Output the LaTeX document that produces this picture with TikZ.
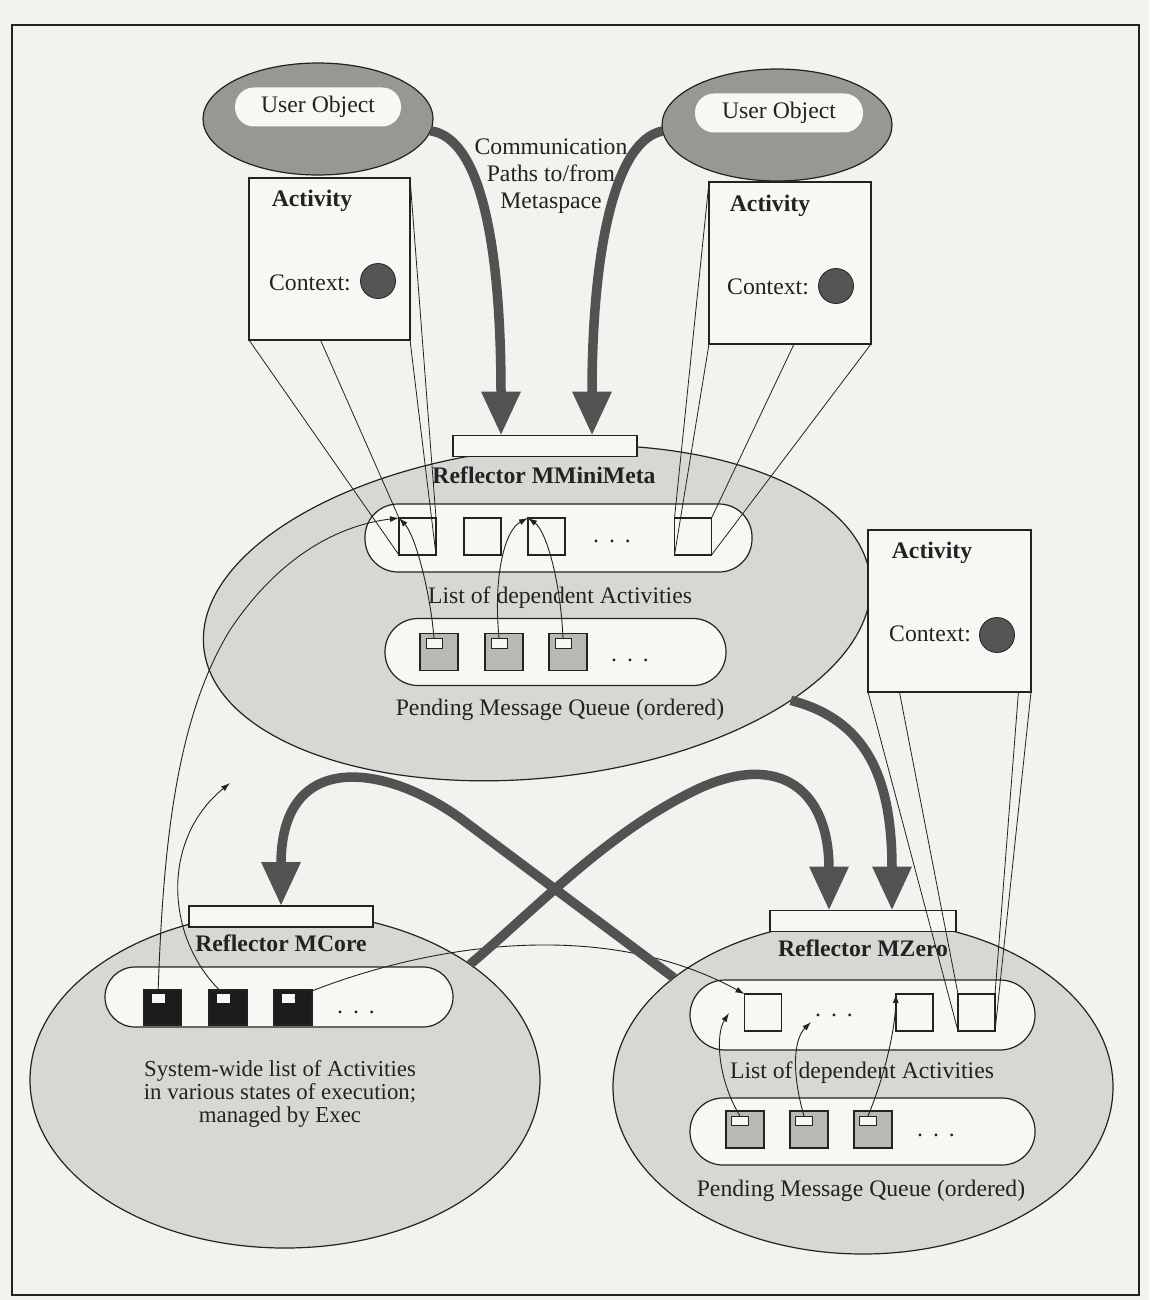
\documentclass[tikz,border=0pt]{standalone}
\usepackage{fontspec}
\setmainfont{Liberation Serif}
\usetikzlibrary{shapes.geometric,arrows.meta,calc}
\definecolor{paper}{HTML}{F2F2EE}
\definecolor{shade}{HTML}{D7D7D3}
\definecolor{objgray}{HTML}{979793}
\definecolor{inner}{HTML}{F7F7F4}
\definecolor{ink}{HTML}{222222}
\definecolor{flow}{HTML}{525252}
\definecolor{msg}{HTML}{B8B8B4}
\definecolor{ctxdot}{HTML}{555555}
\definecolor{coreblk}{HTML}{1C1C1C}
\pgfdeclarelayer{base}
\pgfdeclarelayer{links}
\pgfsetlayers{base,links,main}
\begin{document}
\begin{tikzpicture}[x=1pt,y=-1pt,
  every node/.style={font=\fontsize{23.7}{27}\selectfont, text=ink, inner sep=0pt, outer sep=0pt},
  title/.style={font=\bfseries\fontsize{23.7}{27}\selectfont},
  region/.style={ellipse, draw=ink, line width=1.2pt, fill=shade},
  userobj/.style={ellipse, draw=ink, line width=1.2pt, fill=objgray},
  userpill/.style={fill=inner, rounded corners=19pt, minimum height=39pt},
  bar/.style={draw=ink, line width=1.4pt, fill=inner, minimum height=21pt},
  listpill/.style={draw=ink, line width=1.2pt, fill=inner, rounded corners=33pt, minimum height=68pt},
  lbox/.style={draw=ink, line width=1.2pt, fill=inner, minimum width=37pt, minimum height=37pt},
  mbox/.style={draw=ink, line width=1.2pt, fill=msg, minimum width=38pt, minimum height=37pt},
  cbox/.style={draw=ink, line width=1.2pt, fill=coreblk, minimum width=38pt, minimum height=35pt},
  tag/.style={draw=ink, line width=0.9pt, fill=inner, minimum width=16pt, minimum height=10pt},
  ctag/.style={draw=inner, line width=0.6pt, fill=inner, minimum width=12pt, minimum height=8pt},
  actbox/.style={draw=ink, line width=1.2pt, fill=inner},
  ctx/.style={circle, draw=ink, line width=0.8pt, fill=ctxdot, minimum size=35pt},
  proj/.style={ink, line width=0.8pt},
  note/.style={ink, line width=0.9pt, -{Latex[length=9pt,width=6pt]}},
  flowarrow/.style={flow, line width=9.5pt, -{Triangle[length=44pt,width=37pt]}}
]
\useasboundingbox (0,0) rectangle (1149,1300);

\begin{pgfonlayer}{base}
% page and frame
\fill[paper] (0,0) rectangle (1149,1300);
\draw[ink, line width=2.8pt] (12,25) rectangle (1139,1295);

% reflector regions
\node[region, minimum width=670pt, minimum height=330pt, rotate=6] (mmreg) at (537,613) {};
\node[region, minimum width=510pt, minimum height=336pt] (mcreg) at (285,1080) {};
\node[region, minimum width=500pt, minimum height=334pt] (mzreg) at (863,1087) {};

% reflector bars and titles
\node[bar, minimum width=184pt] (mmbar) at (545,446) {};
\node[title] (mmtitle) at (544,475) {Reflector MMiniMeta};
\node[bar, minimum width=184pt] (mcbar) at (281,916.5) {};
\node[title] (mctitle) at (281,943) {Reflector MCore};
\node[bar, minimum width=186pt] (mzbar) at (863,921) {};
\node[title] (mztitle) at (863,948) {Reflector MZero};

% MMiniMeta: dependent activities and message queue
\node[listpill, minimum width=387pt] (mmlist) at (558.5,538) {};
\node[lbox] (mm1) at (417.5,536.5) {};
\node[lbox] (mm2) at (482.5,536.5) {};
\node[lbox] (mm3) at (546.5,536.5) {};
\node (mmdots) at (612,541) {.\hskip 10pt.\hskip 10pt.};
\node[lbox] (mm4) at (693,536.5) {};
\node (mmlistlbl) at (560,598) {List of dependent Activities};
\node[listpill, minimum width=341pt, minimum height=67pt] (mmqueue) at (555.5,652) {};
\node[mbox] (mq1) at (439,652) {};
\node[mbox] (mq2) at (504,652) {};
\node[mbox] (mq3) at (568,652) {};
\node[tag] (mt1) at (434,643) {};
\node[tag] (mt2) at (499,643) {};
\node[tag] (mt3) at (563,643) {};
\node (mqdots) at (630,660) {.\hskip 10pt.\hskip 10pt.};
\node (mmqlbl) at (560,710) {Pending Message Queue (ordered)};

% MZero: dependent activities and message queue
\node[listpill, minimum width=345pt, minimum height=70pt, rounded corners=35pt] (mzlist) at (862.5,1015) {};
\node[lbox] (za) at (763,1012.5) {};
\node (zdots) at (834,1015) {.\hskip 10pt.\hskip 10pt.};
\node[lbox] (zb) at (914.5,1012.5) {};
\node[lbox] (zc) at (976.5,1012.5) {};
\node (mzlistlbl) at (862,1073) {List of dependent Activities};
\node[listpill, minimum width=345pt, minimum height=67pt] (mzqueue) at (862.5,1131.5) {};
\node[mbox] (zq1) at (745,1129.5) {};
\node[mbox] (zq2) at (809,1129.5) {};
\node[mbox] (zq3) at (873,1129.5) {};
\node[tag, minimum width=17pt, minimum height=9pt] (zt1) at (740,1120.5) {};
\node[tag, minimum width=17pt, minimum height=9pt] (zt2) at (804,1120.5) {};
\node[tag, minimum width=17pt, minimum height=9pt] (zt3) at (868,1120.5) {};
\node (zqdots) at (936,1135) {.\hskip 10pt.\hskip 10pt.};
\node (mzqlbl) at (861,1191) {Pending Message Queue (ordered)};

% MCore: system-wide list of activities
\node[listpill, minimum width=348pt, minimum height=60pt, rounded corners=30pt] (mclist) at (279,997) {};
\node[cbox] (cb1) at (162.5,1007.5) {};
\node[cbox] (cb2) at (228,1007.5) {};
\node[cbox] (cb3) at (293,1007.5) {};
\node[ctag] (ct1) at (158,998) {};
\node[ctag] (ct2) at (223.5,998) {};
\node[ctag] (ct3) at (288.5,998) {};
\node (cdots) at (356,1012) {.\hskip 10pt.\hskip 10pt.};
\node[align=center, font=\fontsize{22.8}{23}\selectfont] (mcdesc) at (280,1093.5)
  {System-wide list of Activities\\in various states of execution;\\managed by Exec};

% user objects
\node[userobj, minimum width=230pt, minimum height=112pt] (uoL) at (318,119) {};
\node[userpill, minimum width=166pt] (uoLp) at (318,107) {User Object};
\node[userobj, minimum width=230pt, minimum height=112pt] (uoR) at (777,125) {};
\node[userpill, minimum width=168pt] (uoRp) at (779,113) {User Object};
\node[align=center] (comm) at (551,176) {Communication\\Paths to/from\\Metaspace};
\end{pgfonlayer}

% activity boxes, projected onto their list entries
\node[actbox, minimum width=161pt, minimum height=162pt] (actL) at (329.5,259) {};
\node[actbox, minimum width=162pt, minimum height=162pt] (actR) at (790,263) {};
\node[actbox, minimum width=163pt, minimum height=162pt] (actZ) at (949.5,611) {};
\begin{pgfonlayer}{links}
\foreach \c in {north west,north east,south west,south east}{
  \draw[proj] (actL.\c) -- (mm1.\c);
  \draw[proj] (actR.\c) -- (mm4.\c);
  \draw[proj] (actZ.\c) -- (zc.\c);
}
\end{pgfonlayer}
\node[title] (actLt) at (312,201) {Activity};
\node (actLc) at (310,283) {Context:};
\node[ctx] (ctxL) at (378,281) {};
\node[title] (actRt) at (770,206) {Activity};
\node (actRc) at (768,287) {Context:};
\node[ctx] (ctxR) at (836,286) {};
\node[title] (actZt) at (932,553) {Activity};
\node (actZc) at (930,634) {Context:};
\node[ctx] (ctxZ) at (997,635) {};

% message delivery inside the reflectors
\draw[note] (mt1.north) .. controls (430,590) and (415,535) .. (mm1.north west);
\draw[note] (mt2.north) .. controls (493,575) and (505,530) .. (mm3.north west);
\draw[note] (mt3.north) .. controls (560,575) and (545,530) .. (mm3.north west);
\coordinate (mzup1) at (729,1013);
\coordinate (mzup2) at (811,1022);
\draw[note] (zt1.north) .. controls (718,1080) and (715,1035) .. (mzup1);
\draw[note] (zt2.north) .. controls (792,1075) and (793,1040) .. (mzup2);
\draw[note] (zt3.north) .. controls (885,1075) and (895,1030) .. (zb.north west);

% links from the system-wide list
\coordinate (mcup) at (230,783);
\draw[note] (ct1.north) .. controls (163,850) and (175,720) .. (230,630)
  .. controls (280,555) and (340,525) .. (mm1.north west);
\draw[note] (ct2.north) .. controls (165,940) and (160,840) .. (mcup);
\draw[note] (ct3.east) .. controls (420,945) and (600,915) .. (za.north west);

% metaspace communication paths
\draw[flowarrow] (uoL.-6) .. controls (482,138) and (501,250) .. ($(mmbar.north west)+(48,0)$);
\draw[flowarrow] (uoR.183) .. controls (615,140) and (592,250) .. ($(mmbar.north east)+(-45,0)$);
\draw[flowarrow] (mmreg.-25) .. controls (868,720) and (892,780) .. ($(mzbar.north east)+(-64,0)$);
\draw[flowarrow] (mzreg.150) -- (468,824) .. controls (392,765) and (281,745) .. (mcbar.north);
\draw[flowarrow] (mcreg.32) .. controls (540,905) and (610,830) .. (700,788)
  .. controls (780,752) and (829,790) .. ($(mzbar.north west)+(59,0)$);
\end{tikzpicture}
\end{document}
